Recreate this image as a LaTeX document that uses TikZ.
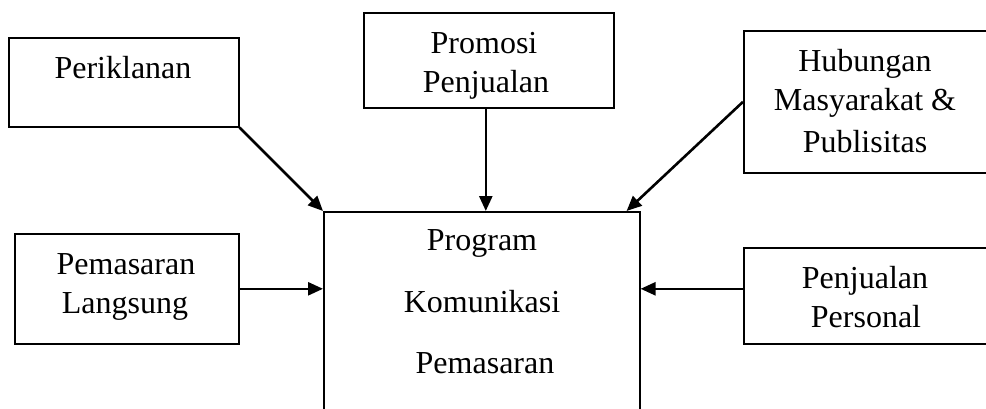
\documentclass[tikz,border=0pt]{standalone}
\usepackage{fontspec}
\setmainfont{Liberation Serif}
\usetikzlibrary{arrows.meta}
\begin{document}
\begin{tikzpicture}[x=1pt,y=-1pt,
  boxshape/.style={draw,line width=1.6pt,rectangle,inner sep=0pt,anchor=north west},
  lbl/.style={anchor=base,inner sep=0pt,font=\fontsize{32}{38}\selectfont},
  conn/.style={line width=2.6pt,-{Triangle[length=15pt,width=13pt]}}]
\useasboundingbox (0,0) rectangle (986,408);
\clip (0,0) rectangle (986,408);
% boxes
\node[boxshape,minimum width=230pt,minimum height=89pt] (ikl) at (8,37) {};
\node[boxshape,minimum width=250pt,minimum height=95pt] (prom) at (363,12) {};
\node[boxshape,minimum width=260pt,minimum height=142pt] (hub) at (743,30) {};
\node[boxshape,minimum width=316pt,minimum height=220pt] (prog) at (323,211) {};
\node[boxshape,minimum width=224pt,minimum height=110pt] (lang) at (14,233) {};
\node[boxshape,minimum width=260pt,minimum height=96pt] (pers) at (743,247) {};
% labels
\node[lbl] (t1) at (123,78) {Periklanan};
\node[lbl] (t2) at (484,53) {Promosi};
\node[lbl] (t3) at (486,92) {Penjualan};
\node[lbl] (t4) at (865,71) {Hubungan};
\node[lbl] (t5) at (865,110) {Masyarakat \&};
\node[lbl] (t6) at (865,152) {Publisitas};
\node[lbl] (t7) at (482,250) {Program};
\node[lbl] (t8) at (482,312) {Komunikasi};
\node[lbl] (t9) at (485,373) {Pemasaran};
\node[lbl] (t10) at (126,274) {Pemasaran};
\node[lbl] (t11) at (125,313) {Langsung};
\node[lbl] (t12) at (865,288) {Penjualan};
\node[lbl] (t13) at (866,327) {Personal};
% connectors
\draw[conn] (ikl.south east) -- (prog.north west);
\draw[conn] ([xshift=-3pt]prom.south) -- ([xshift=-3pt]prom.south |- prog.north);
\draw[conn] (hub.west) -- ([xshift=-14pt]prog.north east);
\draw[conn] (lang.east) -- (lang.east -| prog.west);
\draw[conn] (lang.east -| pers.west) -- (lang.east -| prog.east);
\end{tikzpicture}
\end{document}
